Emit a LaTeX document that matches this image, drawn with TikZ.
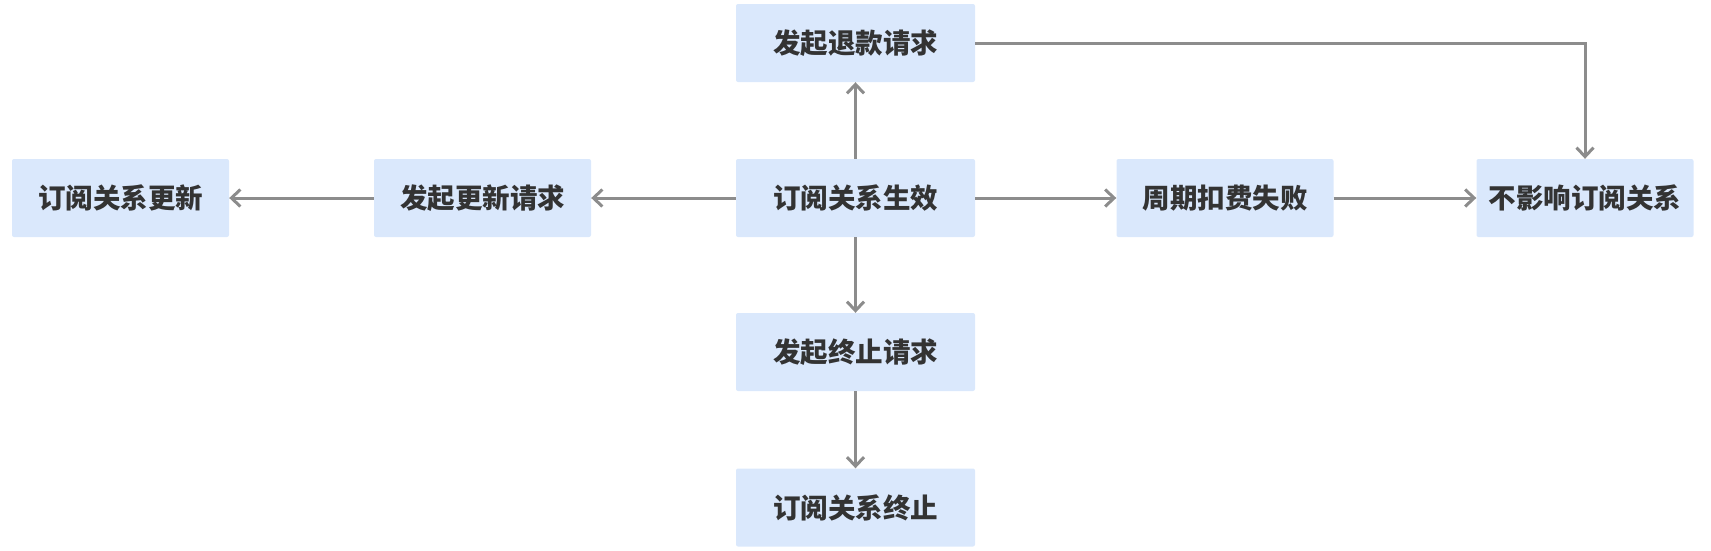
\documentclass[tikz,border=0pt]{standalone}
\usepackage{fontspec}
\setmainfont{Noto Sans CJK SC}
\usetikzlibrary{arrows.meta}
\definecolor{boxblue}{HTML}{DAE8FC}
\definecolor{linegray}{HTML}{8C8C8C}
\definecolor{txtgray}{HTML}{333333}

\begin{document}
\begin{tikzpicture}
  [x=1pt,y=-1pt,
   every node/.style={fill=boxblue,rounded corners=2pt,minimum width=217pt,minimum height=78pt,
     inner sep=0pt,text=txtgray,font=\fontsize{27.5}{32}\selectfont\bfseries},
   wide/.style={minimum width=239pt},
   conn/.style={draw=linegray,line width=3pt,-{Straight Barb[length=9pt,width=17pt]}}]
  \useasboundingbox (0,0) rectangle (1711,550);

  \node[wide] (act) at (855.5, 198) {订阅关系生效};
  \node[wide] (ref) at (855.5, 43) {发起退款请求};
  \node[wide] (rqt) at (855.5, 352) {发起终止请求};
  \node[wide] (trm) at (855.5, 507.5) {订阅关系终止};

  \node (rqu) at (482.5, 198) {发起更新请求};
  \node (upd) at (120.5, 198) {订阅关系更新};
  \node (fail) at (1225, 198) {周期扣费失败};
  \node (noa) at (1585, 198) {不影响订阅关系};

  \foreach \from/\to in {act/ref,act/rqu,rqu/upd,act/fail,fail/noa,act/rqt,rqt/trm}
    \draw[conn] (\from) -- (\to);

  \draw[conn] (ref.east) -| (noa.north);

\end{tikzpicture}
\end{document}
